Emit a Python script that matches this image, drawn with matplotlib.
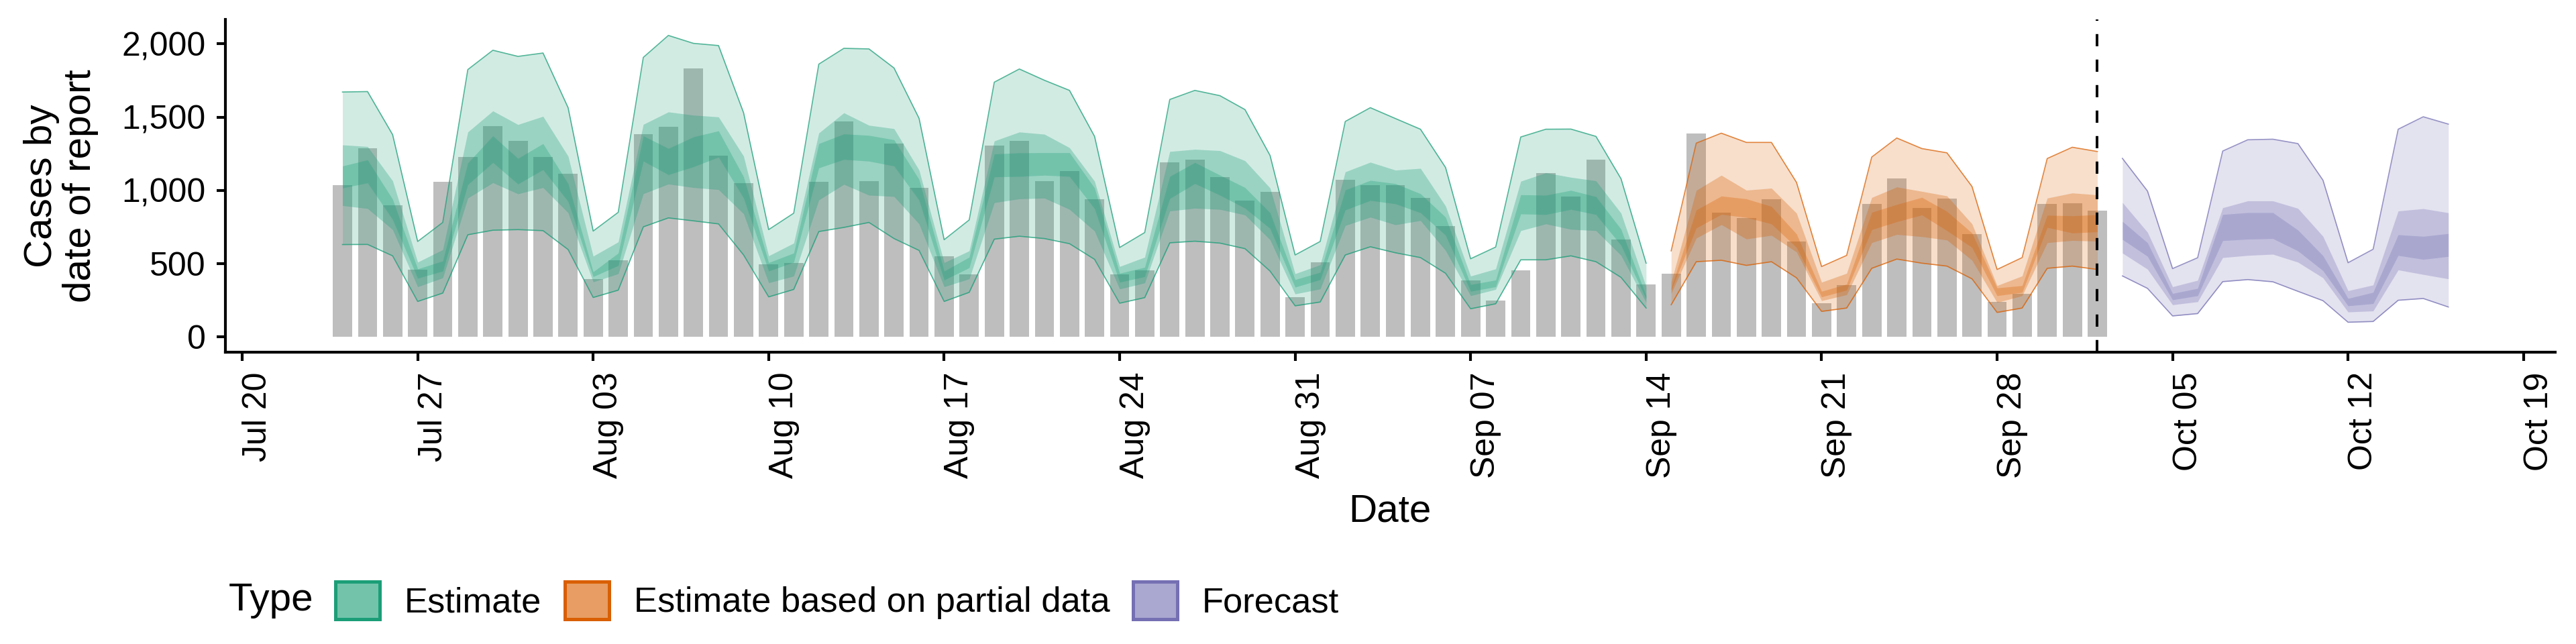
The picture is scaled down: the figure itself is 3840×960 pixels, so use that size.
import numpy as np
import matplotlib
matplotlib.use("Agg")
import matplotlib.pyplot as plt
import matplotlib.dates as mdates
from matplotlib.patches import Patch
from matplotlib.ticker import FuncFormatter

plt.rcParams["font.family"] = ["Liberation Sans", "DejaVu Sans"]

# reported cases, Jul 24 .. Oct 02
report_dates = np.arange("2020-07-24", "2020-10-03", dtype="datetime64[D]")
reported = [1035, 1288, 897, 458, 1059, 1229, 1441, 1340, 1228, 1116,
            397, 525, 1386, 1433, 1833, 1236, 1052, 495, 505, 1059,
            1471, 1066, 1320, 1018, 553, 427, 1307, 1338, 1063, 1134,
            939, 426, 456, 1191, 1211, 1093, 932, 989, 273, 511,
            1073, 1038, 1035, 951, 756, 386, 250, 453, 1119, 957,
            1209, 666, 360, 434, 1389, 847, 813, 939, 651, 231,
            354, 909, 1084, 883, 946, 704, 240, 295, 909, 911, 862]

# estimate, Jul 24 .. Sep 14
est_dates = np.arange("2020-07-24", "2020-09-15", dtype="datetime64[D]")
est_upper_90 = [1672, 1675, 1381, 652, 782, 1825, 1957, 1915, 1938, 1565, 723, 851,
                1908, 2058, 2004, 1989, 1530, 733, 845, 1862, 1970, 1966, 1836, 1492,
                664, 799, 1739, 1829, 1752, 1683, 1369, 611, 713, 1621, 1683, 1647,
                1552, 1239, 560, 652, 1471, 1565, 1491, 1418, 1157, 534, 614, 1365,
                1418, 1419, 1369, 1080, 504]
est_lower_90 = [631, 632, 554, 243, 300, 698, 729, 733, 726, 597, 270, 320,
                752, 813, 793, 772, 560, 274, 325, 720, 748, 782, 672, 591,
                243, 305, 668, 688, 672, 637, 530, 231, 269, 643, 654, 641,
                603, 450, 213, 239, 560, 616, 575, 542, 435, 193, 227, 527,
                527, 554, 514, 407, 198]
est_upper_50 = [1311, 1300, 1066, 511, 596, 1399, 1543, 1450, 1506, 1234, 552, 649,
                1451, 1536, 1514, 1502, 1234, 554, 641, 1392, 1530, 1445, 1422, 1139,
                508, 588, 1338, 1399, 1384, 1292, 1063, 481, 545, 1266, 1281, 1272,
                1203, 1017, 432, 493, 1127, 1193, 1139, 1151, 894, 416, 465, 1063,
                1121, 1090, 1066, 845, 343]
est_lower_50 = [897, 877, 733, 343, 404, 948, 1053, 977, 1020, 848, 376, 432,
                978, 1044, 1020, 1006, 841, 370, 416, 935, 1042, 968, 959, 772,
                343, 397, 917, 943, 948, 871, 723, 328, 369, 860, 879, 871,
                833, 664, 294, 328, 761, 818, 766, 795, 591, 282, 325, 726,
                772, 735, 726, 557, 236]
est_upper_20 = [1167, 1209, 940, 465, 519, 1188, 1373, 1219, 1320, 1047, 445, 573,
                1373, 1287, 1366, 1407, 1093, 508, 573, 1320, 1386, 1376, 1346, 1075,
                450, 545, 1249, 1257, 1258, 1258, 1017, 435, 476, 1096, 1191, 1105,
                1020, 848, 392, 442, 1004, 1069, 1047, 978, 818, 358, 389, 971,
                968, 1001, 958, 736, 282]
est_lower_20 = [1017, 1052, 802, 401, 450, 1040, 1191, 1044, 1142, 925, 412, 488,
                1200, 1108, 1162, 1228, 948, 450, 511, 1154, 1212, 1200, 1167, 934,
                389, 473, 1093, 1096, 1104, 1096, 876, 374, 412, 945, 1047, 968,
                879, 741, 340, 392, 867, 932, 909, 848, 695, 312, 343, 840,
                836, 871, 836, 626, 259]

# estimate based on partial data, Sep 15 .. Oct 02
part_dates = np.arange("2020-09-15", "2020-10-03", dtype="datetime64[D]")
part_upper_90 = [588, 1323, 1391, 1328, 1328, 1055, 481, 557, 1228, 1358, 1286, 1257, 1027, 461, 542, 1218, 1295, 1266]
part_lower_90 = [220, 514, 524, 489, 514, 404, 175, 198, 469, 532, 504, 484, 397, 168, 198, 469, 484, 461]
part_upper_50 = [374, 1001, 1104, 1002, 1016, 845, 374, 435, 952, 1024, 994, 963, 772, 351, 417, 948, 983, 970]
part_lower_50 = [297, 675, 767, 669, 694, 580, 248, 289, 644, 700, 685, 662, 524, 236, 282, 644, 659, 654]
part_upper_20 = [335, 867, 962, 943, 891, 703, 312, 361, 851, 905, 953, 857, 710, 335, 351, 831, 827, 835]
part_lower_20 = [320, 744, 837, 816, 772, 611, 274, 320, 733, 787, 833, 726, 611, 282, 305, 748, 710, 718]

# forecast, Oct 03 .. Oct 16
fc_dates = np.arange("2020-10-03", "2020-10-17", dtype="datetime64[D]")
fc_upper_90 = [1219, 996, 467, 541, 1269, 1346, 1350, 1320, 1070, 507, 599, 1418, 1503, 1453]
fc_lower_90 = [417, 332, 144, 160, 378, 392, 377, 312, 248, 101, 106, 251, 263, 205]
fc_upper_50 = [918, 715, 343, 387, 882, 929, 929, 878, 687, 316, 355, 860, 876, 848]
fc_lower_50 = [573, 463, 220, 241, 542, 557, 565, 511, 404, 171, 178, 458, 427, 397]
fc_upper_20 = [789, 643, 297, 332, 836, 849, 849, 730, 555, 263, 305, 698, 687, 706]
fc_lower_20 = [666, 551, 254, 282, 658, 668, 672, 588, 453, 213, 228, 557, 530, 550]

last_data = np.datetime64("2020-10-02")
type_labels = ["Estimate", "Estimate based on partial data", "Forecast"]
type_colors = ["#1B9E77", "#D95F02", "#7570B3"]

fig = plt.figure(figsize=(12.8, 3.2), dpi=300)
ax = fig.add_axes([0.0875, 0.453, 0.9044, 0.517])

ax.bar(report_dates, reported, width=0.77, color="#BEBEBE", linewidth=0, zorder=1)

groups = [
    (est_dates, est_upper_90, est_lower_90, est_upper_50, est_lower_50, est_upper_20, est_lower_20),
    (part_dates, part_upper_90, part_lower_90, part_upper_50, part_lower_50, part_upper_20, part_lower_20),
    (fc_dates, fc_upper_90, fc_lower_90, fc_upper_50, fc_lower_50, fc_upper_20, fc_lower_20),
]
for (d, u90, l90, u50, l50, u20, l20), col in zip(groups, type_colors):
    ax.fill_between(d, l90, u90, color=col, alpha=0.2, linewidth=0, zorder=2)
    ax.plot(d, u90, color=col, alpha=0.75, linewidth=0.4, zorder=2)
    ax.plot(d, l90, color=col, alpha=0.75, linewidth=0.4, zorder=2)
    ax.fill_between(d, l50, u50, color=col, alpha=0.3, linewidth=0, zorder=2)
    ax.fill_between(d, l20, u20, color=col, alpha=0.3, linewidth=0, zorder=2)

ax.axvline(last_data, color="black", linewidth=0.95, linestyle=(0, (4.6, 5.0)), zorder=3)

x0 = mdates.date2num(np.datetime64("2020-07-20"))
x1 = mdates.date2num(np.datetime64("2020-10-19"))
ax.set_xlim(x0 - 0.67, x1 + 1.26)
ax.set_ylim(-104, 2168)

ticks = np.arange("2020-07-20", "2020-10-20", 7, dtype="datetime64[D]")
ax.set_xticks(mdates.date2num(ticks))
ax.xaxis.set_major_formatter(mdates.DateFormatter("%b %d"))
ax.set_yticks([0, 500, 1000, 1500, 2000])
ax.yaxis.set_major_formatter(FuncFormatter(lambda v, p: "{:,.0f}".format(v)))

for s in ["top", "right"]:
    ax.spines[s].set_visible(False)
for s in ["left", "bottom"]:
    ax.spines[s].set_linewidth(1.0)
ax.tick_params(axis="both", direction="out", length=3.2, width=1.0, labelsize=12, pad=3.8, color="black")
for lab in ax.get_xticklabels():
    lab.set_rotation(90)
    lab.set_ha("left")

fig.text(91 / 3840, 1 - 277 / 960, "Cases by\ndate of report", rotation=90, ha="center", va="center",
         fontsize=14, multialignment="center", linespacing=1.1)
fig.text(2072 / 3840, 1 - 763 / 960, "Date", ha="center", va="center", fontsize=14)

fig.text(341 / 3840, 1 - 895 / 960, "Type", ha="left", va="center", fontsize=14)
handles = [Patch(facecolor=matplotlib.colors.to_rgba(c, 0.61), edgecolor=c, linewidth=1.2) for c in type_colors]
fig.legend(handles, type_labels, loc="center left", bbox_to_anchor=(500 / 3840, 1 - 895 / 960),
           ncol=3, frameon=False, fontsize=12.6, handlelength=1.26, handleheight=1.26,
           handletextpad=0.7, columnspacing=0.66, borderaxespad=0, borderpad=0)

fig.savefig("out.png", dpi=300)
